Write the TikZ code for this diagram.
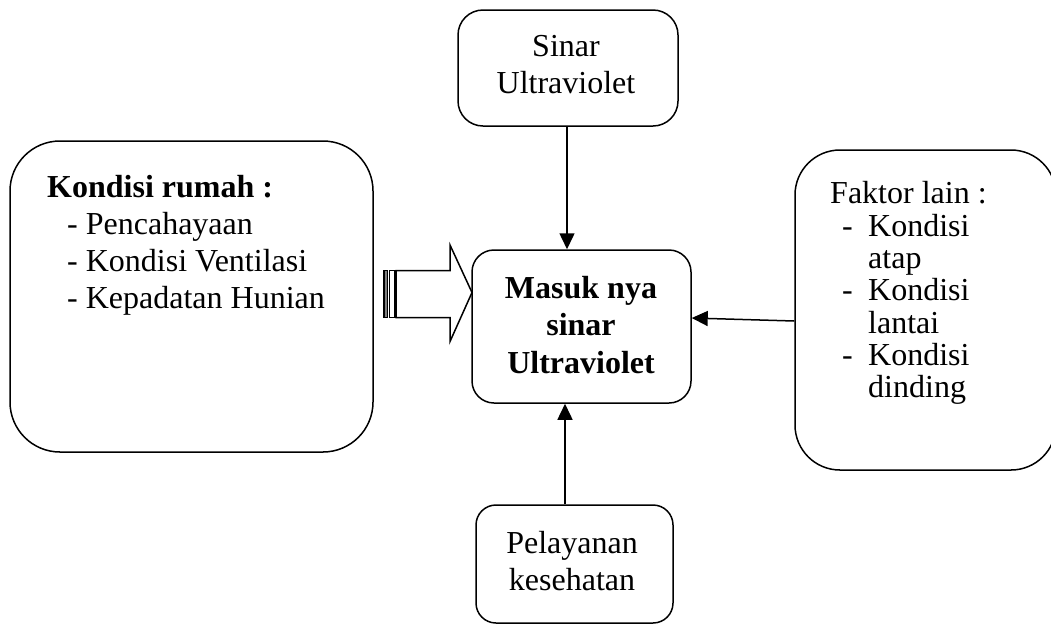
\documentclass[tikz,border=0pt]{standalone}
\usepackage{fontspec}
\setmainfont{Liberation Serif}
\usetikzlibrary{arrows.meta}
\begin{document}
\begin{tikzpicture}[x=1pt,y=-1pt,
  box/.style={draw, line width=1.5pt, rounded corners=#1, inner sep=0pt},
  txt/.style={inner sep=0pt, font=\fontsize{32}{37}\selectfont},
  btxt/.style={inner sep=0pt, font=\fontsize{32}{37}\selectfont\bfseries},
  arr/.style={line width=1.5pt, -{Triangle[length=16pt,width=15pt]}},
  blockline/.style={line width=1.5pt, line join=miter}]
\clip (0,0) rectangle (1051,625);
% boxes
\node[box=25pt, minimum width=220pt, minimum height=116pt] (top) at (568,68) {};
\node[box=50pt, minimum width=363pt, minimum height=311pt] (left) at (191.5,296.5) {};
\node[box=22pt, minimum width=219pt, minimum height=153pt] (cen) at (581.5,326.5) {};
\node[box=45pt, minimum width=261pt, minimum height=320pt] (right) at (925.5,310) {};
\node[box=20pt, minimum width=197pt, minimum height=118pt] (bot) at (574.5,564) {};
% texts
\node[txt, anchor=base] (t1) at (566,56) {Sinar};
\node[txt, anchor=base] (t2) at (566,93) {Ultraviolet};
\node[btxt, anchor=base] (c1) at (581,298) {Masuk nya};
\node[btxt, anchor=base] (c2) at (581,335) {sinar};
\node[btxt, anchor=base] (c3) at (581,373) {Ultraviolet};
\node[txt, anchor=base] (b1) at (572,553) {Pelayanan};
\node[txt, anchor=base] (b2) at (572,590) {kesehatan};
\node[btxt, anchor=base west] (l0) at (47,197) {Kondisi rumah :};
\node[txt, anchor=base west] (l1) at (67,234) {- Pencahayaan};
\node[txt, anchor=base west] (l2) at (67,271) {- Kondisi Ventilasi};
\node[txt, anchor=base west] (l3) at (67,308) {- Kepadatan Hunian};
\node[txt, anchor=base west] (r0) at (830,203) {Faktor lain :};
\node[txt, anchor=base west] (d1) at (842,236) {-};
\node[txt, anchor=base west] (d2) at (842,300) {-};
\node[txt, anchor=base west] (d3) at (842,365) {-};
\node[txt, anchor=base west] (r1) at (868,236) {Kondisi};
\node[txt, anchor=base west] (r2) at (868,268) {atap};
\node[txt, anchor=base west] (r3) at (868,300) {Kondisi};
\node[txt, anchor=base west] (r4) at (868,333) {lantai};
\node[txt, anchor=base west] (r5) at (868,365) {Kondisi};
\node[txt, anchor=base west] (r6) at (868,397) {dinding};
% connectors
\draw[arr] ([xshift=-1pt]top.south) -- ([xshift=-1pt]top.south |- cen.north);
\draw[arr] ([xshift=-9.5pt]bot.north) -- ([xshift=-9.5pt]bot.north |- cen.south);
\draw[arr] ([yshift=-11pt]right.west) -- ([yshift=8.5pt]cen.east);
% striped block arrow
\draw[blockline, fill=white] (396,270.5) -- (450,270.5) -- (450,245) -- (472,292.5) -- (450,341.5) -- (450,317.5) -- (396,317.5) -- cycle;
\draw[line width=1.2pt, fill=gray] (384,270.5) rectangle (387.5,317.5);
\draw[line width=1.2pt, fill=white] (389.5,270.5) rectangle (395,317.5);
\end{tikzpicture}
\end{document}
